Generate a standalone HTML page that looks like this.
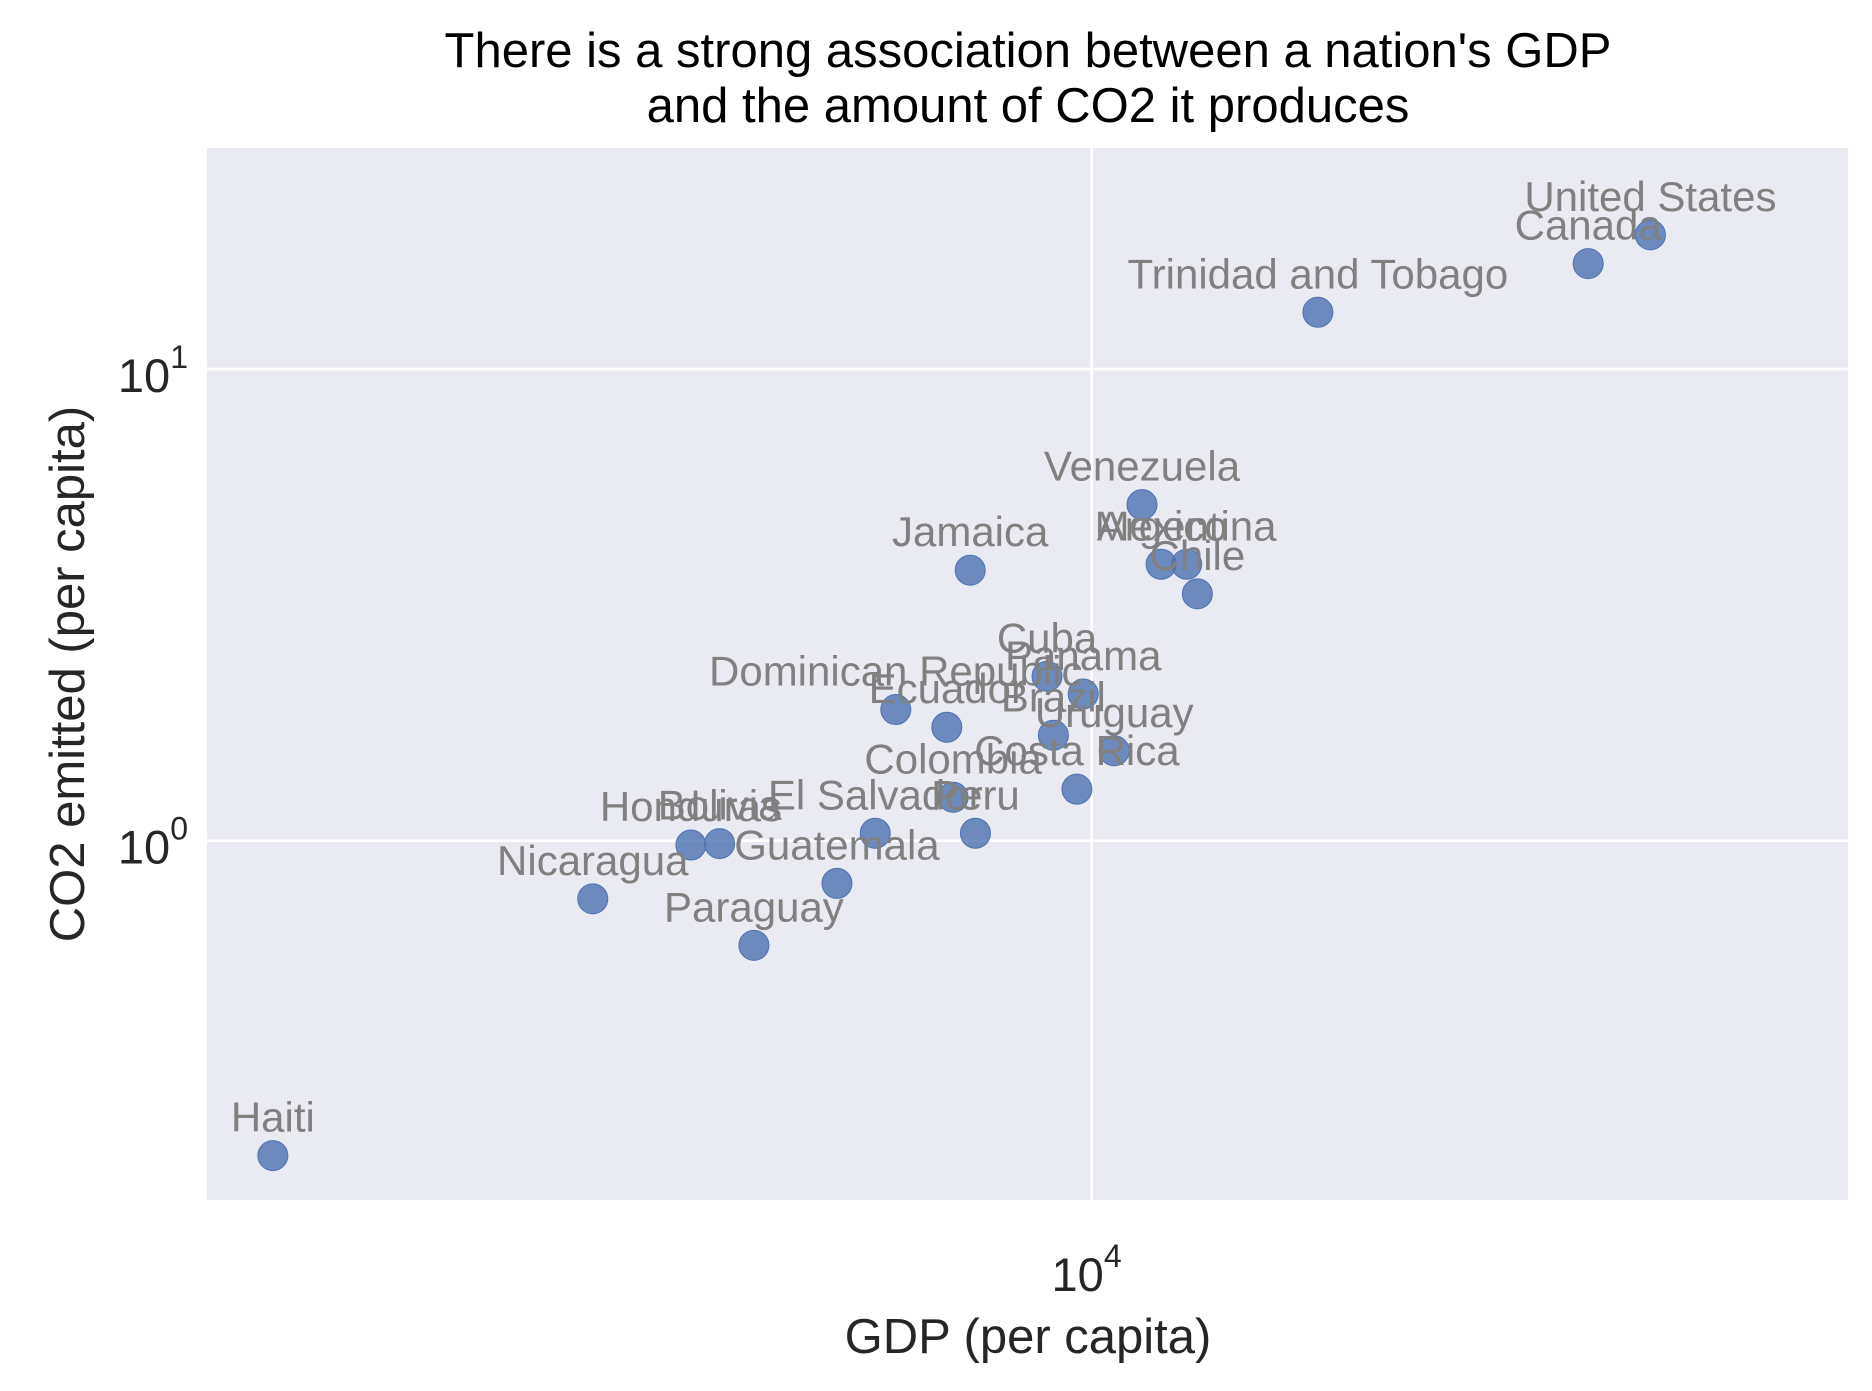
<!DOCTYPE html>
<html><head><meta charset="utf-8"><style>
html,body{margin:0;padding:0;background:#fff}
svg{display:block;font-family:"Liberation Sans",Arial,sans-serif}
</style></head><body>
<svg id="chart" width="1872" height="1391" viewBox="0 0 1872 1391">
<rect x="207" y="148" width="1641" height="1052" fill="#eaeaf2"/>
<g id="grid"></g>
<g id="ticks"></g>
<g id="marks"></g>
<g id="labels"></g>
<text x="1028" y="67" text-anchor="middle" font-size="49" fill="#000">There is a strong association between a nation's GDP</text>
<text x="1028" y="122" text-anchor="middle" font-size="49" fill="#000">and the amount of CO2 it produces</text>
<text x="1028" y="1353" text-anchor="middle" font-size="49" fill="#262626">GDP (per capita)</text>
<text transform="translate(84,674) rotate(-90)" text-anchor="middle" font-size="49" fill="#262626">CO2 emitted (per capita)</text>
</svg>
<script>
const countries = ["Haiti","Nicaragua","Honduras","Bolivia","Paraguay","Guatemala","El Salvador","Dominican Republic","Ecuador","Colombia","Jamaica","Peru","Cuba","Brazil","Costa Rica","Panama","Uruguay","Venezuela","Mexico","Argentina","Chile","Trinidad and Tobago","Canada","United States"];
const gdp = [1320,2912,3712,3985,4338,5327,5856,6161,6990,7100,7406,7503,8956,9098,9643,9795,10575,11327,11876,12650,12990,17500,34150,39830];
const co2 = [0.215,0.753,0.979,0.986,0.600,0.812,1.037,1.897,1.740,1.236,3.745,1.037,2.231,1.673,1.286,2.047,1.551,5.159,3.855,3.855,3.337,13.19,16.73,19.25];
const xTicks = [10000];
const xTickExp = ["4"];
const yTicks = [1,10];
const yTickExp = ["0","1"];

const NS = "http://www.w3.org/2000/svg";
const PL = 207, PR = 1848, PT = 148, PB = 1200;
function xScale(v){ return 1091.6 + (Math.log10(v) - 4) * 931; }
function yScale(v){ return 840.7 - Math.log10(v) * 471.7; }
function mk(tag, attrs, parent){
  const e = document.createElementNS(NS, tag);
  for (const k in attrs) e.setAttribute(k, attrs[k]);
  parent.appendChild(e);
  return e;
}
const grid = document.getElementById('grid');
const ticks = document.getElementById('ticks');
xTicks.forEach((t, i) => {
  const x = xScale(t);
  const l = mk('line', {x1:x, x2:x, y1:PT, y2:PB, stroke:'#fff', 'stroke-width':2.6}, grid);
  
  
  const tx = mk('text', {x:x-5, y:1291, 'text-anchor':'middle', 'font-size':47, fill:'#262626'}, ticks);
  
  
  tx.textContent = '10';
  const sp = mk('tspan', {dy:-24, 'font-size':32}, tx);
  sp.textContent = xTickExp[i];
});
yTicks.forEach((t, i) => {
  const y = yScale(t);
  const l = mk('line', {x1:PL, x2:PR, y1:y, y2:y, stroke:'#fff', 'stroke-width':2.6}, grid);
  
  
  const tx = mk('text', {x:188, y:y+23, 'text-anchor':'end', 'font-size':47, fill:'#262626'}, ticks);
  
  
  tx.textContent = '10';
  const sp = mk('tspan', {dy:-24, 'font-size':32}, tx);
  sp.textContent = yTickExp[i];
});
const marks = document.getElementById('marks');
const labels = document.getElementById('labels');
countries.forEach((c, i) => {
  const cx = xScale(gdp[i]), cy = yScale(co2[i]);
  const p = mk('circle', {cx:cx, cy:cy, r:15, fill:'#4c72b0', 'fill-opacity':0.8, stroke:'#4c72b0', 'stroke-width':1}, marks);
  
  
  const t = mk('text', {x:cx, y:cy-24, 'text-anchor':'middle', 'font-size':42, fill:'#808080'}, labels);
  
  
  t.textContent = c;
});
</script>
</body></html>
